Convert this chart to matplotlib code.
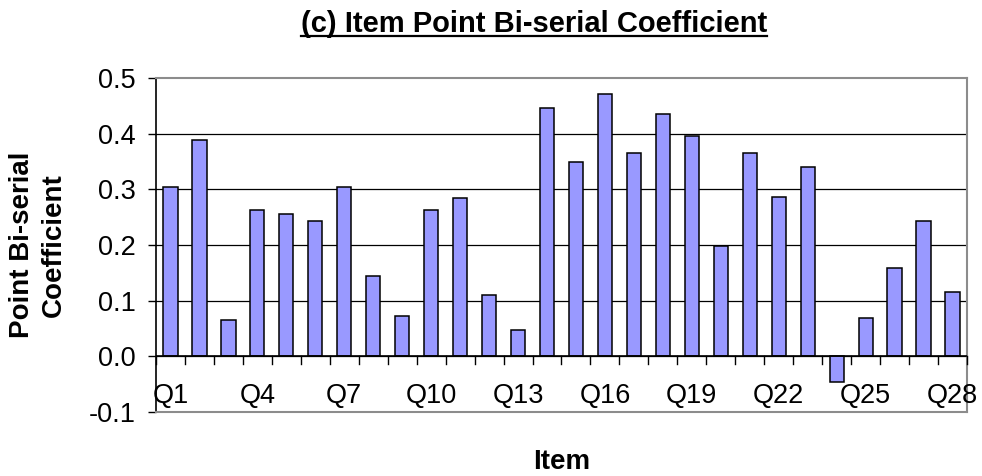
import numpy as np
import matplotlib
matplotlib.use("Agg")
import matplotlib.pyplot as plt
from matplotlib.lines import Line2D

plt.rcParams['font.family'] = ['Liberation Sans', 'DejaVu Sans']
plt.rcParams['axes.unicode_minus'] = False

# data
items = [f"Q{i}" for i in range(1, 29)]
coef = [0.305, 0.388, 0.065, 0.262, 0.255, 0.244, 0.305, 0.144, 0.072, 0.262,
        0.284, 0.111, 0.047, 0.446, 0.349, 0.471, 0.366, 0.435, 0.395, 0.198,
        0.366, 0.287, 0.341, -0.047, 0.069, 0.158, 0.244, 0.115]
yticks = [-0.1, 0.0, 0.1, 0.2, 0.3, 0.4, 0.5]
label_every = 3

W, H = 982, 476
fig = plt.figure(figsize=(W / 100, H / 100), dpi=100)
ax = fig.add_axes([156 / W, 1 - 412 / H, (967 - 156) / W, (412 - 78) / H])

x = np.arange(len(items))
ax.bar(x, coef, width=0.49, color='#9999FF', edgecolor='black', linewidth=1.1, zorder=3)

ax.set_xlim(-0.5, len(items) - 0.5)
ax.set_ylim(yticks[0], yticks[-1])
ax.set_yticks(yticks)
ax.set_yticklabels([f"{v:.1f}" for v in yticks], fontsize=19.5)
ax.tick_params(axis='y', direction='out', length=5.8, width=1, pad=9)

# grid lines between the ends
for v in yticks[1:-1]:
    ax.axhline(v, color='black', linewidth=0.9, zorder=1)
# zero line with category ticks below it
ax.axhline(0, color='black', linewidth=1.2, zorder=4)
ax.set_xticks([])
for b in np.arange(-0.5, len(items), 1.0):
    ax.plot([b, b], [0, -0.014], color='black', linewidth=1, zorder=4, clip_on=False)

for i in range(0, len(items), label_every):
    ax.text(x[i], -0.071, items[i], ha='center', va='center', fontsize=19.5, zorder=5, clip_on=False)

for side in ['top', 'right', 'bottom']:
    ax.spines[side].set_color('#8c8c8c')
    ax.spines[side].set_linewidth(1.5)
ax.spines['left'].set_color('black')
ax.spines['left'].set_linewidth(1.2)

fig.text(38 / W, 1 - 245 / H, "Point Bi-serial\nCoefficient", rotation=90, ha='center', va='center',
         multialignment='center', fontsize=20, fontweight='bold', linespacing=1.3)
fig.text(562 / W, 1 - 462 / H, "Item", ha='center', va='center', fontsize=20, fontweight='bold')

title = fig.text(534 / W, 1 - 24 / H, "(c) Item Point Bi-serial Coefficient", ha='center', va='center',
                 fontsize=21, fontweight='bold')
fig.canvas.draw()
bb = title.get_window_extent()
fig.add_artist(Line2D([bb.x0 / W, bb.x1 / W], [1 - 36 / H, 1 - 36 / H], color='black', linewidth=1.6,
                      transform=fig.transFigure))

fig.savefig("out.png", dpi=100)
